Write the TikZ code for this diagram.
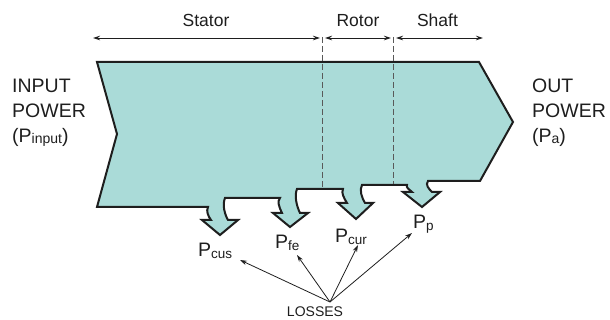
\documentclass[tikz,border=0pt]{standalone}
\usepackage{fontspec}
\setmainfont{Liberation Sans}
\usetikzlibrary{arrows.meta}
\definecolor{band}{HTML}{AADBD8}
\definecolor{ink}{HTML}{1E1E1E}
\newcommand\lossP[1]{{\fontsize{19.5}{20}\selectfont P}{\fontsize{13.5}{14}\selectfont\raisebox{-1.2pt}{#1}}}
\begin{document}
\begin{tikzpicture}[x=1pt,y=-1pt,
  lbl/.style={inner sep=0pt,text=ink,font=\fontsize{19.5}{20}\selectfont},
  dim/.style={inner sep=0pt,text=ink,font=\fontsize{17.5}{18}\selectfont},
  loss/.style={inner sep=0pt,text=ink},
  dimarrow/.style={draw=ink,line width=0.9pt,{Stealth[length=7pt,width=4.5pt]}-{Stealth[length=7pt,width=4.5pt]}},
  lossarrow/.style={draw=ink,line width=0.8pt,-{Stealth[length=7pt,width=4.5pt]}},
  guide/.style={draw=black!65,line width=0.9pt,dash pattern=on 6pt off 3pt},
  flow/.style={fill=band,draw=ink,line width=2pt,line join=miter}]
\useasboundingbox (0,0) rectangle (610,320);

% power-flow band with loss arrows
\path[flow] (97,62) -- (479,62) -- (513,122) -- (480,181) -- (428,181)
  .. controls (425,185) and (429,189) .. (432,192) -- (440,192) -- (422,207) -- (403,192) -- (412,192)
  .. controls (409,189) and (406,188) .. (407,185)
  -- (362,185) .. controls (359,190) and (362,198) .. (365,203) -- (373,203) -- (356,219) -- (338,203) -- (347,203)
  .. controls (344,198) and (341,193) .. (343,189)
  -- (297,189) .. controls (294,196) and (297,207) .. (300,213) -- (308,213) -- (290,227) -- (273,213) -- (282,213)
  .. controls (279,207) and (277,201) .. (280,198)
  -- (225,198) .. controls (222,205) and (225,215) .. (228,220) -- (238,220) -- (220,235) -- (202,220) -- (211,220)
  .. controls (208,216) and (206,211) .. (208,207)
  -- (97,207) -- (117,134) -- cycle;

% section guides
\coordinate (g1t) at (322.5,37);
\coordinate (g1b) at (322.5,188);
\coordinate (g2t) at (393.5,37);
\coordinate (g2b) at (393.5,184);
\draw[guide] (g1t) -- (g1b);
\draw[guide] (g2t) -- (g2b);

% dimension arrows
\coordinate (s1) at (93,38);
\coordinate (s2) at (320,38);
\coordinate (r1) at (325,38);
\coordinate (r2) at (391,38);
\coordinate (h1) at (396,38);
\coordinate (h2) at (483,38);
\draw[dimarrow] (s1) -- (s2);
\draw[dimarrow] (r1) -- (r2);
\draw[dimarrow] (h1) -- (h2);
\node[dim,anchor=base] (stator) at (206,27) {Stator};
\node[dim,anchor=base] (rotor) at (358,27) {Rotor};
\node[dim,anchor=base] (shaft) at (437.5,27) {Shaft};

% input / output labels
\node[lbl,anchor=base west] (in1) at (12,93) {INPUT};
\node[lbl,anchor=base west] (in2) at (12,118) {POWER};
\node[lbl,anchor=base west] (in3) at (12,143) {(P{\fontsize{14}{14}\selectfont\raisebox{-1pt}{input}})};
\node[lbl,anchor=base west] (out1) at (532,93) {OUT};
\node[lbl,anchor=base west] (out2) at (532,118) {POWER};
\node[lbl,anchor=base west] (out3) at (532,143) {(P{\fontsize{14}{14}\selectfont\raisebox{-1pt}{a}})};

% loss labels
\node[loss,anchor=base west] (pcus) at (198,257) {\lossP{cus}};
\node[loss,anchor=base west] (pfe) at (275,249) {\lossP{fe}};
\node[loss,anchor=base west] (pcur) at (335,243) {\lossP{cur}};
\node[loss,anchor=base west] (pp) at (413,229) {\lossP{p}};
\node[loss,anchor=base,font=\fontsize{14}{14}\selectfont] (losses) at (315,316) {LOSSES};

\coordinate (src) at (330,302);
\coordinate (tcus) at (240,260);
\coordinate (tfe) at (297,255);
\coordinate (tcur) at (358,245);
\coordinate (tp) at (412,233);
\draw[lossarrow] (src) -- (tcus);
\draw[lossarrow] (src) -- (tfe);
\draw[lossarrow] (src) -- (tcur);
\draw[lossarrow] (src) -- (tp);
\end{tikzpicture}
\end{document}
